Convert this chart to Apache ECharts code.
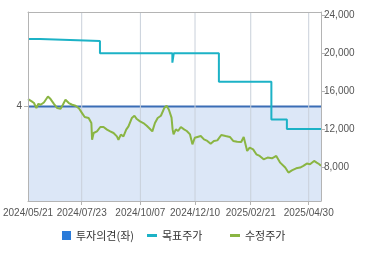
<!DOCTYPE html>
<html>
<head>
<meta charset="UTF-8">
<title>투자의견 / 목표주가 / 수정주가</title>
<script src="https://cdn.jsdelivr.net/npm/echarts@6.0.0/dist/echarts.min.js"></script>
<style>
  html, body { margin: 0; padding: 0; background: #fff; }
  #main { width: 370px; height: 255px; }
</style>
</head>
<body>
<div id="main"></div>
<script>
// x = 거래일 순번 (0 = 2024/05/21)
var tickIdx = [0, 45, 94.2, 140, 186.7, 235.3];
var tickLabels = ['2024/05/21', '2024/07/23', '2024/10/07', '2024/12/10', '2025/02/21', '2025/04/30'];
var lastIdx = 245.6;

// 투자의견 (좌축)
var opinionIdx = [0, 245.6];
var opinionVal = [4, 4];

// 목표주가 (계단형)
var targetIdx = [0, 10, 60.3, 121, 122.2, 160, 204, 217, 245.6];
var targetVal = [21500, 21300, 20000, 19000, 20000, 17000, 13000, 12000, 12000];

// 수정주가
var priceIdx = [0, 3.1, 5, 7, 8.7, 10.6, 13.3, 16.7, 18.9, 21.7, 24.5, 27.3, 29.2, 31.4, 34.2, 37, 39.8, 42.5, 45.3, 47.5,
  50.8, 53.1, 53.7, 55, 57.8, 60.6, 63.3, 66.2, 68.9, 71.7, 74.5, 75.8, 77.8, 80, 82.3, 84.2, 87, 89.2, 91.2, 93.9,
  96.7, 99.5, 102.3, 104.2, 106.4, 108.7, 111.4, 114.2, 116.2, 118.1, 120.3, 121.2, 122, 123.9, 125.8, 128.1, 130.8, 133.1, 135.8, 137.8,
  139.8, 142, 144.8, 147.5, 150.3, 153.1, 155.8, 158.7, 162, 165.6, 169.2, 172, 175.3, 178.7, 180.8, 183.7, 185.8, 188.7, 191.4, 194.2,
  197.5, 200.8, 204.5, 208.1, 211.4, 215.6, 218.3, 221.2, 224.8, 228.1, 230.8, 233.7, 236.4, 239.8, 242, 244.2, 245.6];
var priceVal = [15160, 14910, 14740, 14210, 14660, 14560, 14800, 15430, 15160, 14660, 14210, 14140, 14560, 15080, 14740, 14560, 14450, 14210, 13680, 13260,
  13160, 12630, 10870, 11580, 11750, 12210, 12210, 11930, 11750, 11580, 11220, 10870, 11400, 11220, 11930, 12270, 13160, 13400, 13050, 12800,
  12630, 12350, 12000, 11750, 12630, 13160, 13400, 14210, 14450, 14030, 13200, 11960, 11430, 11960, 11790, 12210, 11960, 11790, 11430, 10380,
  11080, 11160, 11260, 10900, 10740, 10450, 10740, 10800, 11370, 11260, 11160, 10740, 10660, 10630, 11160, 9680, 10030, 9850, 9330, 9160,
  8800, 8980, 8910, 9160, 8450, 7930, 7400, 7640, 7850, 7930, 8110, 8350, 8280, 8630, 8450, 8280, 8110];

var rightTicks = [8000, 12000, 16000, 20000, 24000];

function pairs(xs, ys) {
  var out = [];
  for (var i = 0; i < xs.length; i++) out.push([xs[i], ys[i]]);
  return out;
}

var labelFont = { fontFamily: 'Liberation Sans', fontSize: 10, color: '#555' };
var legendText = { fontFamily: 'Noto Sans CJK KR', fontSize: 11, color: '#333' };
var axisGray = '#b4b4b4';
var axisLine = { show: true, onZero: false, lineStyle: { color: axisGray } };

// 세로 격자선: 라벨 위치마다 좌축 0~8 구간, '-' 로 끊음
var gridData = [];
tickIdx.slice(1).forEach(function (v) {
  gridData.push([v, 0], [v, 8], [v, '-']);
});

var myChart = echarts.init(document.getElementById('main'));
var option = {
  animation: false,
  grid: { left: 26, right: 49, top: 12, bottom: 54 },
  legend: [
    { left: 62, top: 230, padding: 0, itemWidth: 9, itemHeight: 9, textStyle: legendText,
      data: [{ name: '투자의견(좌)', icon: 'rect', itemStyle: { color: '#2b7bd9' } }] },
    { left: 147, top: 230, padding: 0, itemWidth: 10, itemHeight: 3, textStyle: legendText,
      data: [{ name: '목표주가', icon: 'rect' }] },
    { left: 230, top: 230, padding: 0, itemWidth: 10, itemHeight: 3, textStyle: legendText,
      data: [{ name: '수정주가', icon: 'rect' }] }
  ],
  xAxis: [{
    type: 'value', min: 0, max: lastIdx, z: 5,
    axisLine: axisLine,
    axisTick: { show: true, length: 4, customValues: tickIdx.slice(1), lineStyle: { color: axisGray } },
    axisLabel: Object.assign({ margin: 7, customValues: tickIdx, formatter: function (v) {
      var k = tickIdx.indexOf(v);
      return k >= 0 ? tickLabels[k] : '';
    } }, labelFont),
    splitLine: { show: false }
  }, {
    // 윗 테두리
    type: 'value', position: 'top', min: 0, max: lastIdx, z: 5,
    axisLine: axisLine, axisTick: { show: false }, axisLabel: { show: false }, splitLine: { show: false }
  }],
  yAxis: [
    { type: 'value', position: 'left', min: 0, max: 8, z: 5,
      axisLine: axisLine,
      axisTick: { show: true, length: 4, customValues: [4], lineStyle: { color: axisGray } },
      axisLabel: Object.assign({ margin: 6, customValues: [4] }, labelFont),
      splitLine: { show: false } },
    { type: 'value', position: 'right', min: 4400, max: 24350, z: 5,
      axisLine: axisLine,
      axisTick: { show: true, length: 4, customValues: rightTicks, lineStyle: { color: axisGray } },
      axisLabel: Object.assign({ margin: 3, customValues: rightTicks, formatter: function (v) {
        return v.toLocaleString('en-US');
      } }, labelFont),
      splitLine: { show: false } }
  ],
  series: [
    { name: '투자의견(좌)', type: 'line', yAxisIndex: 0, showSymbol: false,
      data: pairs(opinionIdx, opinionVal),
      lineStyle: { color: '#3a6db5', width: 2 }, itemStyle: { color: '#3a6db5' },
      areaStyle: { color: '#dce7f7', opacity: 1 } },
    { name: 'grid', type: 'line', yAxisIndex: 0, showSymbol: false, silent: true, connectNulls: false, z: 3,
      data: gridData,
      lineStyle: { color: '#c9d0da', width: 1 } },
    { name: '목표주가', type: 'line', yAxisIndex: 1, showSymbol: false, step: 'end', z: 4,
      data: pairs(targetIdx, targetVal),
      lineStyle: { color: '#1cb2c6', width: 2 }, itemStyle: { color: '#1cb2c6' } },
    { name: '수정주가', type: 'line', yAxisIndex: 1, showSymbol: false, z: 4,
      data: pairs(priceIdx, priceVal),
      lineStyle: { color: '#8ab543', width: 2 }, itemStyle: { color: '#8ab543' } }
  ]
};
myChart.setOption(option);
</script>
</body>
</html>
